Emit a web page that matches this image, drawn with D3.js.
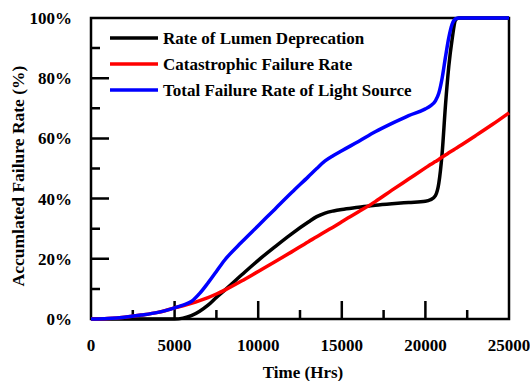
<!DOCTYPE html>
<html>
<head>
<meta charset="utf-8">
<script src="https://d3js.org/d3.v7.min.js"></script>
<style>
body {margin:0; background:white;}
svg text {font-family:"Liberation Serif","Times New Roman",serif; font-weight:bold;}
</style>
</head>
<body>
<svg></svg>
<script>

// hours on the x axis, shared by all three curves
var hours = [0,1000,2000,3000,4000,5000,5500,6000,6500,7000,7500,8000,9000,10000,11000,12000,13000,13500,14000,14500,15000,16000,17000,18000,19000,20000,20300,20600,20800,21000,21200,21400,21600,21800,22000,23000,24000,25000]

// accumulated failure rate in %
var lumenRate = [0,0,0,0,0,0,0.3,1.1,2.6,4.6,7.2,9.6,14.6,19.5,24,28.3,32.2,34,35.2,35.9,36.4,37.1,37.8,38.3,38.7,39.1,39.6,41,45,55,71,84,93,99.3,100,100,100,100]
var catastrophicRate = [0,0.2,0.6,1.3,2.2,3.7,4.4,5.2,6.1,7.1,8.3,9.6,12.6,15.8,19,22.3,25.7,27.3,29,30.6,32.3,35.6,39,42.8,46.5,50.2,51.3,52.3,53,53.8,54.5,55.2,55.9,56.6,57.3,60.9,64.6,68.5]
var totalRate = [0,0.2,0.6,1.3,2.2,3.7,4.6,5.8,8.5,12,15.8,19.6,25.5,31,36.5,42,47.3,50,52.5,54.3,55.9,59,62.2,65,67.6,69.8,70.8,72.5,75,80,87,93.5,98,99.7,100,100,100,100]

var seriesNames = ["Rate of Lumen Deprecation","Catastrophic Failure Rate","Total Failure Rate of Light Source"]
var seriesColors = ["#000000","#ff0000","#0000ff"]
var seriesValues = [lumenRate,catastrophicRate,totalRate]

var xMajor = [0,5000,10000,15000,20000,25000]
var xMinor = [2500,7500,12500,17500,22500]
var yMajor = [0,20,40,60,80,100]
var yMinor = [10,30,50,70,90]

var size = {width:530,height:381}
var margins = {top:18,right:21,bottom:62,left:91}

var plotWidth = size.width - margins.left - margins.right;
var plotHeight = size.height - margins.top - margins.bottom;

var svg = d3.select("svg")
    .attr("width",size.width)
    .attr("height",size.height)

// scales in page coordinates
var xScale = d3.scaleLinear()
                .domain([0,25000])
                .range([margins.left,margins.left+plotWidth])

var yScale = d3.scaleLinear()
                .domain([0,100])
                .range([margins.top+plotHeight,margins.top])

// frame plus inward ticks as one path, drawn first
var framePath = d3.path()
framePath.rect(margins.left,margins.top,plotWidth,plotHeight)
xMajor.forEach(function(v){framePath.moveTo(xScale(v),yScale(0)); framePath.lineTo(xScale(v),yScale(0)-18)})
xMinor.forEach(function(v){framePath.moveTo(xScale(v),yScale(0)); framePath.lineTo(xScale(v),yScale(0)-9)})
yMajor.forEach(function(v){framePath.moveTo(xScale(0),yScale(v)); framePath.lineTo(xScale(0)+18,yScale(v))})
yMinor.forEach(function(v){framePath.moveTo(xScale(0),yScale(v)); framePath.lineTo(xScale(0)+9,yScale(v))})

svg.append("path")
    .attr("d",framePath.toString())
    .attr("fill","none")
    .attr("stroke","black")
    .attr("stroke-width",2.5)

// tick labels
svg.selectAll(".xlabel")
    .data(xMajor)
    .enter()
    .append("text")
    .attr("class","xlabel")
    .attr("x",function(d){return xScale(d)})
    .attr("y",yScale(0)+32)
    .attr("text-anchor","middle")
    .attr("font-size",17)
    .text(function(d){return d})

svg.selectAll(".ylabel")
    .data(yMajor)
    .enter()
    .append("text")
    .attr("class","ylabel")
    .attr("x",xScale(0)-19)
    .attr("y",function(d){return yScale(d)})
    .attr("dy","0.35em")
    .attr("text-anchor","end")
    .attr("font-size",17)
    .text(function(d){return d+"%"})

var lineGenerator = d3.line()
    .x(function(v,i){return xScale(hours[i])})
    .y(function(v){return yScale(v)})
    .curve(d3.curveMonotoneX)

svg.selectAll(".curve")
    .data(seriesValues)
    .enter()
    .append("path")
    .attr("class","curve")
    .attr("fill","none")
    .attr("stroke",function(d,i){return seriesColors[i]})
    .attr("stroke-width",3.5)
    .attr("stroke-linejoin","round")
    .attr("d",lineGenerator)

// legend
var legend = svg.selectAll(".legend")
    .data(seriesNames)
    .enter()
    .append("g")
    .attr("class","legend")
    .attr("transform",function(d,i){return "translate(110,"+(38+i*26)+")"})

legend.append("line")
    .attr("x1",0)
    .attr("x2",48)
    .attr("stroke",function(d,i){return seriesColors[i]})
    .attr("stroke-width",3.5)

legend.append("text")
    .attr("x",53)
    .attr("dy","0.35em")
    .attr("font-size",17)
    .text(function(d){return d})

// axis titles
svg.append("text")
    .attr("x",margins.left+plotWidth/2+3)
    .attr("y",378)
    .attr("text-anchor","middle")
    .attr("font-size",17)
    .text("Time (Hrs)")

svg.append("text")
    .attr("transform","translate(24,176) rotate(-90)")
    .attr("text-anchor","middle")
    .attr("font-size",17.5)
    .text("Accumlated Failure Rate (%)")

</script>
</body>
</html>
